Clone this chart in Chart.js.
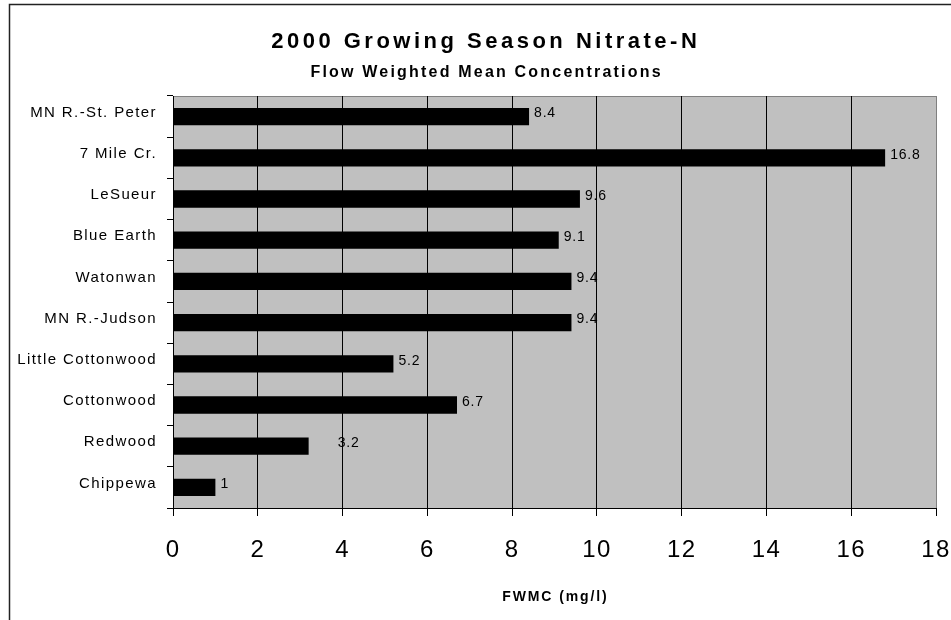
<!DOCTYPE html>
<html>
<head>
<meta charset="utf-8">
<title>2000 Growing Season Nitrate-N</title>
<script src="https://cdn.jsdelivr.net/npm/chart.js@4/dist/chart.umd.min.js"></script>
<style>
  html, body { margin: 0; padding: 0; background: #fff; }
  #wrap { width: 951px; height: 620px; position: relative; }
  canvas { display: block; }
</style>
</head>
<body>
<div id="wrap"><canvas id="chart" width="951" height="620"></canvas></div>
<script>
// Monitoring sites, top to bottom
const sites = [
  'MN R.-St. Peter', '7 Mile Cr.', 'LeSueur', 'Blue Earth', 'Watonwan',
  'MN R.-Judson', 'Little Cottonwood', 'Cottonwood', 'Redwood', 'Chippewa'
];
// Flow weighted mean nitrate-N concentration (mg/l)
const fwmc = [8.4, 16.8, 9.6, 9.1, 9.4, 9.4, 5.2, 6.7, 3.2, 1];
// Value axis ticks
const xTicks = [0, 2, 4, 6, 8, 10, 12, 14, 16, 18];

const titleText = '2000 Growing Season Nitrate-N';
const subtitleText = 'Flow Weighted Mean Concentrations';
const xAxisTitle = 'FWMC (mg/l)';

const FONT = '"Liberation Sans", Arial, Helvetica, sans-serif';

// Extra horizontal shift for value labels that sit further from their bar
const labelNudge = { 'Redwood': 24 };

const decorations = {
  id: 'decorations',
  beforeDraw(chart) {
    const { ctx, chartArea: a } = chart;
    ctx.save();
    // outer frame (top and left edges)
    ctx.strokeStyle = '#222';
    ctx.lineWidth = 1.5;
    ctx.beginPath();
    ctx.moveTo(9.5, 620);
    ctx.lineTo(9.5, 4.5);
    ctx.lineTo(951, 4.5);
    ctx.stroke();
    // plot area fill and its grey top edge
    ctx.fillStyle = '#c0c0c0';
    ctx.fillRect(a.left, a.top, a.right - a.left, a.bottom - a.top);
    ctx.strokeStyle = '#808080';
    ctx.lineWidth = 1;
    ctx.beginPath();
    ctx.moveTo(a.left, a.top + 0.5);
    ctx.lineTo(a.right + 1, a.top + 0.5);
    ctx.stroke();
    ctx.restore();
    // spaced lettering for the axis labels
    ctx.letterSpacing = '1.4px';
  },
  afterDatasetsDraw(chart) {
    const { ctx } = chart;
    const meta = chart.getDatasetMeta(0);
    ctx.save();
    ctx.font = '14px ' + FONT;
    ctx.letterSpacing = '0.8px';
    ctx.fillStyle = '#000';
    ctx.textAlign = 'left';
    ctx.textBaseline = 'middle';
    meta.data.forEach((bar, i) => {
      const nudge = labelNudge[sites[i]] || 0;
      ctx.fillText(String(fwmc[i]), bar.x + 5 + nudge, bar.y - 3);
    });
    ctx.restore();
  },
  afterDraw(chart) {
    const { ctx, chartArea: a } = chart;
    ctx.save();
    ctx.fillStyle = '#000';
    ctx.textAlign = 'center';
    ctx.textBaseline = 'alphabetic';

    ctx.font = 'bold 22px ' + FONT;
    ctx.letterSpacing = '3.5px';
    ctx.fillText(titleText, 484 + 1.75, 48.3);

    ctx.font = 'bold 16px ' + FONT;
    ctx.letterSpacing = '2.2px';
    ctx.fillText(subtitleText, 485.5 + 1.1, 76.7);

    ctx.font = 'bold 14px ' + FONT;
    ctx.letterSpacing = '1.9px';
    ctx.fillText(xAxisTitle, (a.left + a.right) / 2 + 0.95, 601);
    ctx.restore();
  }
};

new Chart(document.getElementById('chart'), {
  type: 'bar',
  data: {
    labels: sites,
    datasets: [{
      data: fwmc,
      backgroundColor: '#000',
      borderWidth: 0,
      barPercentage: 0.42,
      categoryPercentage: 1
    }]
  },
  options: {
    indexAxis: 'y',
    responsive: false,
    animation: false,
    layout: { padding: { top: 96, right: 15, left: 0, bottom: 0 } },
    plugins: {
      legend: { display: false },
      tooltip: { enabled: false },
      title: { display: false }
    },
    scales: {
      x: {
        type: 'linear',
        min: 0,
        max: 18,
        afterBuildTicks: s => { s.ticks = xTicks.map(v => ({ value: v })); },
        afterFit: s => {
          s.height = 112;
          s.paddingLeft = 0;
          s.paddingRight = 0;
        },
        grid: {
          color: c => (c.tick && c.tick.value === 18 ? '#808080' : '#000'),
          lineWidth: 1,
          tickLength: 8,
          tickColor: '#000'
        },
        border: { display: true, color: '#000', width: 1 },
        ticks: {
          font: { family: FONT, size: 24 },
          color: '#000',
          padding: 20,
          maxRotation: 0
        }
      },
      y: {
        type: 'category',
        afterFit: s => {
          s.width = 173;
          s.paddingTop = 0;
          s.paddingBottom = 0;
        },
        grid: {
          offset: true,
          drawOnChartArea: false,
          tickLength: 6,
          tickColor: '#000'
        },
        border: { display: true, color: '#000', width: 1 },
        ticks: {
          font: { family: FONT, size: 15 },
          color: '#000',
          padding: 10,
          labelOffset: -4,
          autoSkip: false
        }
      }
    }
  },
  plugins: [decorations]
});
</script>
</body>
</html>
